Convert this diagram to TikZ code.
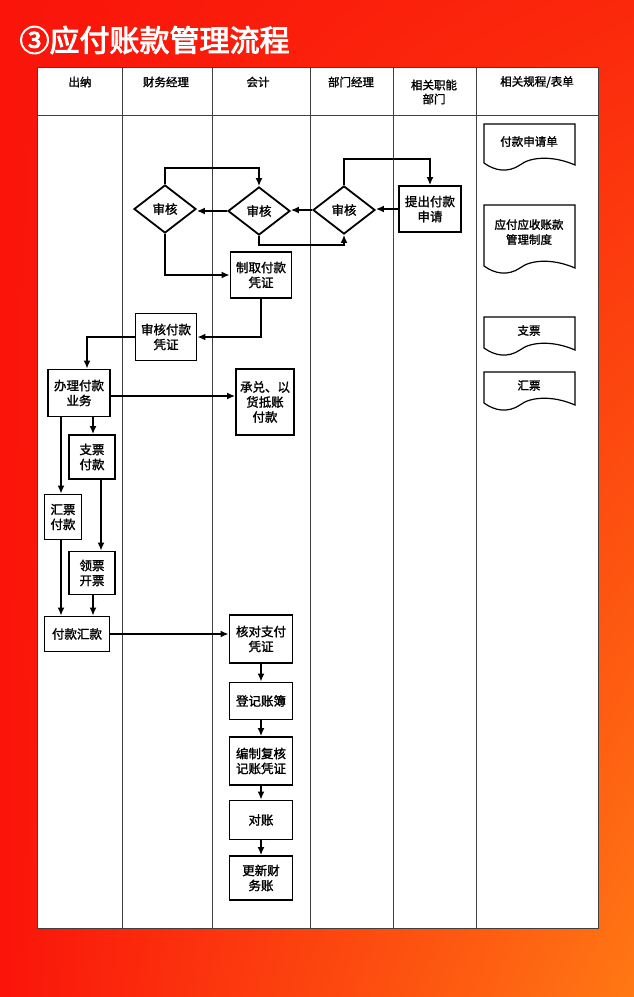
\documentclass[tikz,border=0pt]{standalone}
\usepackage{fontspec}
\setmainfont{Noto Sans CJK SC}[AutoFakeBold=1.5]
\newfontfamily\titlefont{Noto Sans CJK SC}[FakeBold=3]
\usetikzlibrary{shapes.geometric,arrows.meta,shadings}
\definecolor{bgred}{RGB}{250,20,10}
\definecolor{bgorange}{RGB}{255,120,20}
\begin{document}
\begin{tikzpicture}[x=1pt,y=-1pt,
  box/.style={draw,line width=1.8pt,fill=white,align=center,font=\bfseries\fontsize{12.5}{15}\selectfont,inner sep=1pt},
  dia/.style={draw,diamond,line width=1.8pt,fill=white,font=\bfseries\fontsize{12.5}{15}\selectfont,aspect=1.25,inner sep=1pt,minimum width=62pt,minimum height=48pt},
  arr/.style={line width=1.8pt,-{Latex[length=8pt,width=7pt]}},
  hd/.style={font=\bfseries\fontsize{11.5}{14}\selectfont,align=center},
  lane/.style={line width=1pt,draw=black!75}]
\useasboundingbox (0,0) rectangle (634,997);
\shade[upper left=bgred,upper right=bgred!80!bgorange,lower left=bgred,lower right=bgorange] (0,0) rectangle (634,997);
\node[anchor=west,text=white,font=\titlefont\fontsize{30}{33}\selectfont] (title) at (16,40) {③应付账款管理流程};
% table
\fill[white] (37,67) rectangle (598,928);
\draw[lane] (37,67) rectangle (598,928);
\draw[lane] (37,115) -- (598,115);
\foreach \x in {122,212,310,393,476} \draw[lane] (\x,67) -- (\x,928);
\node[hd] (h1) at (80,82) {出纳};
\node[hd] (h2) at (166,82) {财务经理};
\node[hd] (h3) at (258,82) {会计};
\node[hd] (h4) at (351,82) {部门经理};
\node[hd] (h5) at (434,92) {相关职能\\部门};
\node[hd] (h6) at (537,82) {相关规程/表单};
% nodes
\node[dia] (d1) at (165,209) {审核};
\node[dia] (d2) at (259,211) {审核};
\node[dia] (d3) at (344,210) {审核};
\node[box,minimum width=62pt,minimum height=46pt] (req) at (430,209) {提出付款\\申请};
\node[box,minimum width=61pt,minimum height=46pt] (zq) at (261,275) {制取付款\\凭证};
\node[box,minimum width=61pt,minimum height=47pt] (shp) at (166,337) {审核付款\\凭证};
\node[box,minimum width=62pt,minimum height=47pt] (bl) at (79,393) {办理付款\\业务};
\node[box,minimum width=58pt,minimum height=66pt] (cd) at (265,402) {承兑、以\\货抵账\\付款};
\node[box,minimum width=46pt,minimum height=44pt] (zp) at (92,457) {支票\\付款};
\node[box,minimum width=37pt,minimum height=45pt] (hp) at (63,517) {汇票\\付款};
\node[box,minimum width=46pt,minimum height=43pt] (lp) at (92,573) {领票\\开票};
\node[box,minimum width=65pt,minimum height=35pt] (fk) at (77,634) {付款汇款};
\node[box,minimum width=63pt,minimum height=48pt] (hd1) at (261,639) {核对支付\\凭证};
\node[box,minimum width=63pt,minimum height=37pt] (dj) at (261,701) {登记账簿};
\node[box,minimum width=63pt,minimum height=48pt] (bz) at (261,761) {编制复核\\记账凭证};
\node[box,minimum width=63pt,minimum height=39pt] (dz) at (261,820) {对账};
\node[box,minimum width=63pt,minimum height=44pt] (gx) at (261,878) {更新财\\务账};
% edges
\draw[arr] (req.west) -- (req.west -| d3.east);
\draw[arr] (d3.west) -- (d3.west -| d2.east);
\draw[arr] (d2.west) -- (d2.west -| d1.east);
\draw[arr] (d1.north) -- (165,168) -| (d2.north);
\draw[arr] (d3.north) -- (344,159) -| (req.north);
\draw[arr] (d2.south) -- (259,245) -| (d3.south);
\draw[arr] (d1.south) |- (zq.west);
\draw[arr] (zq.south) |- (shp.east);
\draw[arr] (shp.west) -| (bl.north -| 87,0);
\draw[arr] (bl.east |- 0,396) -- (cd.west |- 0,396);
\draw[arr] (93,417) -- (zp.north -| 93,0);
\draw[arr] (61,417) -- (hp.north -| 61,0);
\draw[arr] (101,479) -- (lp.north -| 101,0);
\draw[arr] (61,540) -- (fk.north -| 61,0);
\draw[arr] (93,595) -- (fk.north -| 93,0);
\draw[arr] (fk.east) -- (hd1.west |- fk.east);
\draw[arr] (hd1) -- (dj);
\draw[arr] (dj) -- (bz);
\draw[arr] (bz) -- (dz);
\draw[arr] (dz) -- (gx);
% documents
\foreach \n/\ya/\yb/\t in {doc1/124/165/付款申请单, doc3/317/350/支票, doc4/372/405/汇票}{
  \draw[line width=1.2pt,fill=white] (484,\ya) -- (575,\ya) -- (575,\yb) .. controls (552,\yb-10) and (530,\yb-8) .. (520,\yb) .. controls (508,\yb+8) and (495,\yb+6) .. (484,\yb-2) -- cycle;
  \node[font=\bfseries\fontsize{11.5}{14}\selectfont] (\n) at (529,{(\ya+\yb)/2-3}) {\t};
}
\draw[line width=1.2pt,fill=white] (484,205) -- (575,205) -- (575,268) .. controls (552,258) and (530,260) .. (520,268) .. controls (508,276) and (495,274) .. (484,266) -- cycle;
\node[font=\bfseries\fontsize{11.5}{15}\selectfont,align=center] (doc2) at (529,232) {应付应收账款\\管理制度};
\end{tikzpicture}
\end{document}
